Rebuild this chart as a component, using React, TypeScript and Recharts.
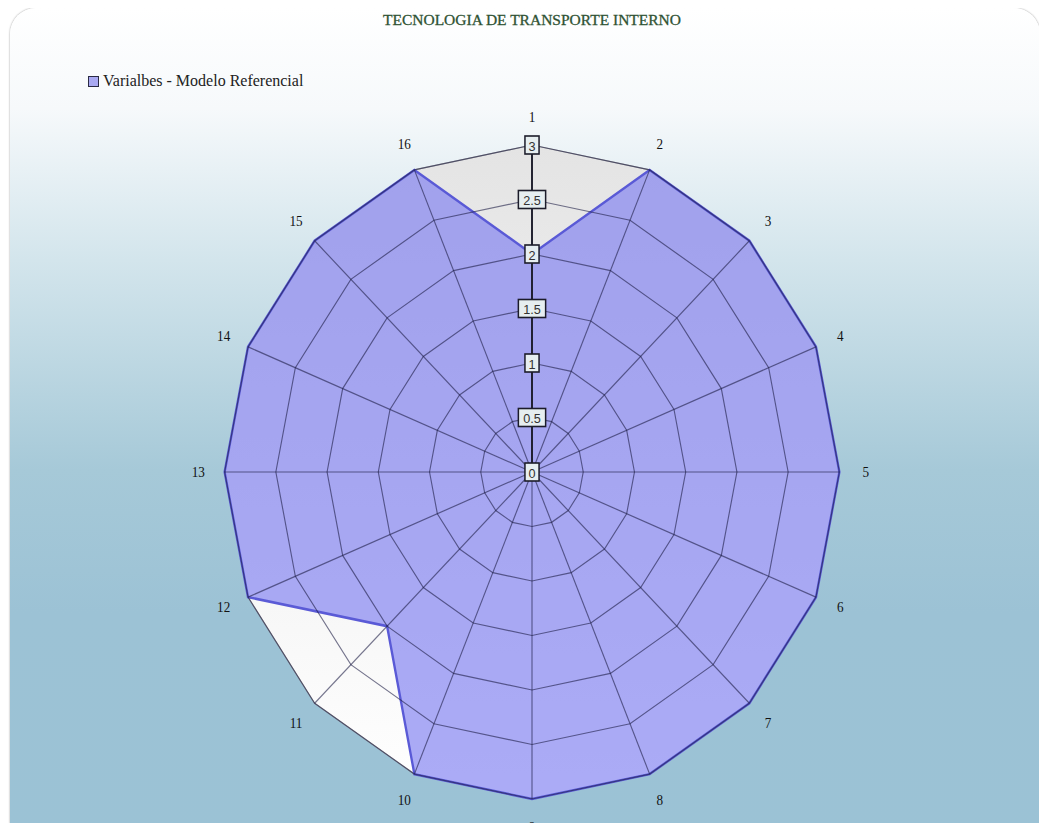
import {
  Legend,
  PolarAngleAxis,
  PolarGrid,
  PolarRadiusAxis,
  Radar,
  RadarChart,
} from "recharts";

const variables = ["1", "2", "3", "4", "5", "6", "7", "8", "9", "10", "11", "12", "13", "14", "15", "16"];
const modeloReferencial = [2, 3, 3, 3, 3, 3, 3, 3, 3, 3, 2, 3, 3, 3, 3, 3];
const limiteEscala = [3, 3, 3, 3, 3, 3, 3, 3, 3, 3, 3, 3, 3, 3, 3, 3];
const radiusTicks = [0, 0.5, 1, 1.5, 2, 2.5, 3];

const data = variables.map((v, i) => ({
  variable: v,
  modelo: modeloReferencial[i],
  limite: limiteEscala[i],
}));

const CX = 532;
const CY = 472;
const R = 327;
// the original plot is a bit narrower than it is tall
const squash = { transform: "scaleX(0.94)", transformOrigin: `${CX}px ${CY}px` };

function AngleTick(props: any) {
  const { x, y, payload } = props;
  const dx = x - CX;
  const dy = y - CY;
  const len = Math.sqrt(dx * dx + dy * dy) || 1;
  const off = 20;
  return (
    <text
      x={x + (dx / len) * off}
      y={y + (dy / len) * off}
      textAnchor="middle"
      dominantBaseline="central"
      fontFamily="Liberation Serif"
      fontSize={14}
      fill="#111"
    >
      {payload.value}
    </text>
  );
}

function RadiusTick(props: any) {
  const { x, y, payload } = props;
  const label = String(payload.value);
  const w = label.length * 7 + 8;
  const h = 18;
  return (
    <g>
      <rect
        x={x - w / 2}
        y={y - h / 2}
        width={w}
        height={h}
        fill="#e6eef0"
        stroke="#1c1c2a"
        strokeWidth={1.6}
      />
      <text
        x={x}
        y={y + 1}
        textAnchor="middle"
        dominantBaseline="central"
        fontFamily="Liberation Sans"
        fontSize={13.5}
        fill="#333"
      >
        {label}
      </text>
    </g>
  );
}

function LegendBox() {
  return (
    <div style={{ display: "flex", alignItems: "center", fontFamily: "Liberation Serif", fontSize: 16, color: "#222" }}>
      <span
        style={{
          display: "inline-block",
          width: 9,
          height: 9,
          background: "#a9a9f2",
          border: "1.5px solid #2a2a44",
          marginRight: 4,
        }}
      />
      Varialbes - Modelo Referencial
    </div>
  );
}

export default function App() {
  return (
    <div style={{ position: "relative", width: 1047, height: 831, margin: -8, overflow: "hidden", background: "#fff" }}>
      <div
        style={{
          position: "absolute",
          left: 10,
          top: 8,
          width: 1030,
          height: 840,
          borderRadius: 26,
          boxShadow: "0 0 2px rgba(0,0,0,0.45)",
          background:
            "linear-gradient(to bottom, #ffffff 0%, #f6f9fb 12%, #d3e5ec 30%, #a6c9d8 55%, #9cc2d5 72%, #9bc2d5 100%)",
        }}
      />
      <div
        style={{
          position: "absolute",
          top: 11,
          left: 0,
          width: 1064,
          textAlign: "center",
          fontFamily: "Liberation Serif",
          fontSize: 15.5,
          color: "#2f5233",
          WebkitTextStroke: "0.3px #2f5233",
        }}
      >
        TECNOLOGIA DE TRANSPORTE INTERNO
      </div>
      <div style={{ position: "absolute", left: 88, top: 72 }}>
        <LegendBox />
      </div>
      <div style={{ position: "absolute", left: 0, top: 0, ...squash }}>
        <RadarChart width={1047} height={831} data={data} cx={CX} cy={CY} outerRadius={R} margin={{ top: 0, right: 0, bottom: 0, left: 0 }}>
          <defs>
            <linearGradient id="frameFill" x1="0" y1="0" x2="0" y2="1">
              <stop offset="0%" stopColor="#e4e4e4" />
              <stop offset="100%" stopColor="#ffffff" />
            </linearGradient>
          </defs>
          <PolarAngleAxis dataKey="variable" axisLine={false} tickLine={false} tick={<AngleTick />} />
          <PolarRadiusAxis angle={90} domain={[0, 3]} ticks={radiusTicks} axisLine={false} tick={false} />
          <Radar
            name="limite"
            dataKey="limite"
            fill="url(#frameFill)"
            fillOpacity={1}
            stroke="#9a9a9a"
            strokeWidth={1.2}
            legendType="none"
            isAnimationActive={false}
          />
          <Radar
            name="Varialbes - Modelo Referencial"
            dataKey="modelo"
            fill="#7878f0"
            fillOpacity={0.62}
            stroke="#5a5ad6"
            strokeWidth={2.5}
            isAnimationActive={false}
          />
        </RadarChart>
      </div>
      {/* grid sits above the filled areas, so it goes in its own layer */}
      <div style={{ position: "absolute", left: 0, top: 0, pointerEvents: "none", ...squash }}>
        <RadarChart width={1047} height={831} data={data} cx={CX} cy={CY} outerRadius={R} margin={{ top: 0, right: 0, bottom: 0, left: 0 }}>
          <PolarGrid gridType="polygon" stroke="#1c1c44" strokeOpacity={0.6} strokeWidth={1.2} />
          <PolarAngleAxis dataKey="variable" axisLine={false} tickLine={false} tick={false} />
          <PolarRadiusAxis
            angle={90}
            domain={[0, 3]}
            ticks={radiusTicks}
            axisLine={{ stroke: "#1c1c2a", strokeWidth: 2 }}
            tickLine={false}
            tick={<RadiusTick />}
          />
          <Radar
            dataKey="limite"
            fill="none"
            stroke="none"
            legendType="none"
            isAnimationActive={false}
          />
        </RadarChart>
      </div>
    </div>
  );
}
